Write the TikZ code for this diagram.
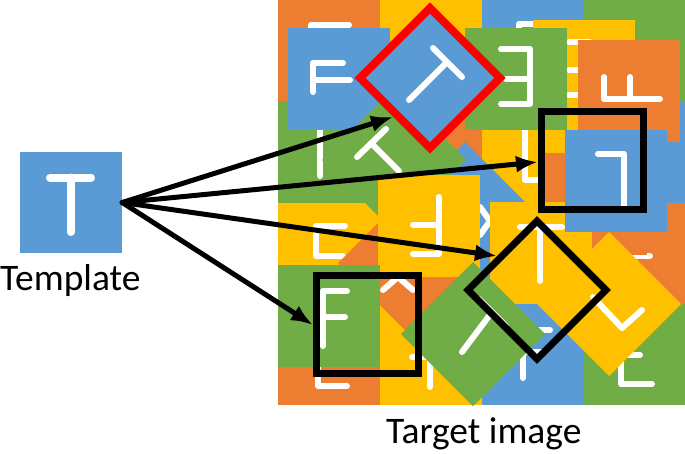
\documentclass[tikz,border=0pt]{standalone}
\usepackage{fontspec}
\setmainfont{Carlito}
\usetikzlibrary{arrows.meta}
\definecolor{TBlue}{HTML}{5B9BD5}
\definecolor{TOrange}{HTML}{ED7D31}
\definecolor{TYellow}{HTML}{FFC000}
\definecolor{TGreen}{HTML}{70AD47}
\definecolor{TRed}{HTML}{FF0000}
\begin{document}
\begin{tikzpicture}[x=1pt,y=-1pt,
  wletter/.style={white,line width=6pt,line cap=round,line join=round},
  blkframe/.style={black,line width=7pt,line join=miter},
  arr/.style={black,line width=5pt,line cap=round,-{Latex[length=22pt,width=17pt]}},
  lbl/.style={inner sep=0pt,font=\fontsize{37.5}{44}\selectfont,text=black}]
\useasboundingbox (0,0) rectangle (685,453);

\begin{scope}
\clip (278,0) rectangle (685,405);
% base grid
\fill[TOrange] (278,0) rectangle (381,102);
\fill[TYellow] (380,0) rectangle (483,102);
\fill[TBlue] (482,0) rectangle (585,102);
\fill[TGreen] (584,0) rectangle (685,102);
\fill[TGreen] (278,101) rectangle (381,204);
\fill[TOrange] (380,101) rectangle (483,204);
\fill[TYellow] (482,101) rectangle (585,204);
\fill[TBlue] (584,101) rectangle (685,204);
\fill[TYellow] (278,203) rectangle (381,305);
\fill[TBlue] (380,203) rectangle (483,305);
\fill[TBlue] (482,203) rectangle (585,305);
\fill[TOrange] (584,203) rectangle (685,305);
\fill[TOrange] (278,304) rectangle (381,405);
\fill[TYellow] (380,304) rectangle (483,405);
\fill[TBlue] (482,304) rectangle (585,405);
\fill[TGreen] (584,304) rectangle (685,405);
% letters of the base tiles
\draw[wletter] (311,60) -- (311,25) -- (349,25);
\draw[wletter] (320,128) -- (320,176);
\draw[wletter] (345,226) -- (316,226) -- (316,256) -- (343,256);
\draw[wletter] (318,340) -- (318,386) -- (347,386);
\draw[wletter] (412,357) -- (448,357) (430,357) -- (430,387);
\draw[wletter] (550,330) -- (523,330) -- (523,378) (523,352) -- (542,352);
\draw[wletter] (640,355) -- (621,355) -- (621,384) -- (652,384);
\draw[wletter] (632,256) -- (650,256);
\draw[wletter] (525,128) -- (525,180) -- (540,180);
\draw[wletter] (519,40) -- (519,24) -- (533,24);
% overlay tiles
\fill[TOrange] (408,193) -- (478,263) -- (408,333) -- (338,263) -- cycle;
\draw[wletter] (383,290) -- (398,277) -- (413,290);
\fill[TBlue] (465,142) -- (537,214) -- (465,286) -- (393,214) -- cycle;
\draw[wletter] (480,207) -- (490,221) -- (480,235);
\fill[TBlue] (288,28) rectangle (390,130);
\draw[wletter] (313,92) -- (313,63) -- (343,63) (313,80) -- (350,80);
\fill[TYellow] (533,20) rectangle (635,122);
\draw[wletter] (569,42) -- (590,42) (569,70) -- (590,70) (569,95) -- (590,95);
\fill[TGreen] (465,28) rectangle (567,130);
\draw[wletter] (501,49) -- (530,49) -- (530,104) -- (501,104) (506,79) -- (530,79);
\fill[TOrange] (578,40) rectangle (680,142);
\draw[wletter] (604,77) -- (604,99) -- (660,99) (630,77) -- (630,99);
\fill[TGreen] (394,88) -- (466,160) -- (394,232) -- (322,160) -- cycle;
\draw[wletter] (357,157) -- (386,129) (371,143) -- (399,171);
\fill[TYellow] (378,175) rectangle (480,277);
\draw[wletter] (413,225) -- (439,225) (439,197) -- (439,254) -- (413,254);
\fill[TOrange] (545,153) rectangle (647,255);
\fill[TYellow] (490,202) rectangle (592,304);
\draw[wletter] (520,227) -- (562,227) (540,227) -- (540,281);
\fill[TBlue] (565,130) rectangle (667,232);
\draw[wletter] (598,154) -- (624,154) -- (624,206);
\fill[TGreen] (278,265) rectangle (380,367);
\draw[wletter] (347,291) -- (323,291) -- (323,346) (323,317) -- (345,317);
\fill[TGreen] (473,262) -- (545,334) -- (473,406) -- (401,334) -- cycle;
\draw[wletter] (479,299) -- (506,326) (492,312) -- (462,352);
\fill[TYellow] (609,232) -- (681,304) -- (609,376) -- (537,304) -- cycle;
\draw[wletter] (593,297) -- (622,328) -- (642,310);
% red framed diamond
\fill[TBlue] (430,8) -- (500,78) -- (430,148) -- (360,78) -- cycle;
\draw[wletter] (433,48) -- (462,77) (447,62) -- (409,100);
\draw[TRed,line width=8pt,line join=miter] (430,8) -- (500,78) -- (430,148) -- (360,78) -- cycle;
\end{scope}

% black frames
\draw[blkframe] (541.5,111.5) rectangle (643.5,209.5);
\draw[blkframe] (316.5,275.5) rectangle (418.5,373.5);
\draw[blkframe] (537,221) -- (606,290) -- (537,359) -- (468,290) -- cycle;

% template
\node[fill=TBlue,minimum width=102pt,minimum height=101pt,inner sep=0pt] (tpl) at (71,202.5) {};
\draw[white,line width=8pt,line cap=round] (50,177.5) -- (91,177.5) (70.5,177.5) -- (70.5,232);

% labels
\node[lbl,anchor=base west] (lblTemplate) at (0,290) {Template};
\node[lbl,anchor=base west] (lblTarget) at (386,443) {Target image};

% arrows
\coordinate (tipA) at (393,117);
\coordinate (tipB) at (538,162);
\coordinate (tipC) at (497,256);
\coordinate (tipD) at (313,325);
\draw[arr] (tpl.east) -- (tipA);
\draw[arr] (tpl.east) -- (tipB);
\draw[arr] (tpl.east) -- (tipC);
\draw[arr] (tpl.east) -- (tipD);
\end{tikzpicture}
\end{document}
